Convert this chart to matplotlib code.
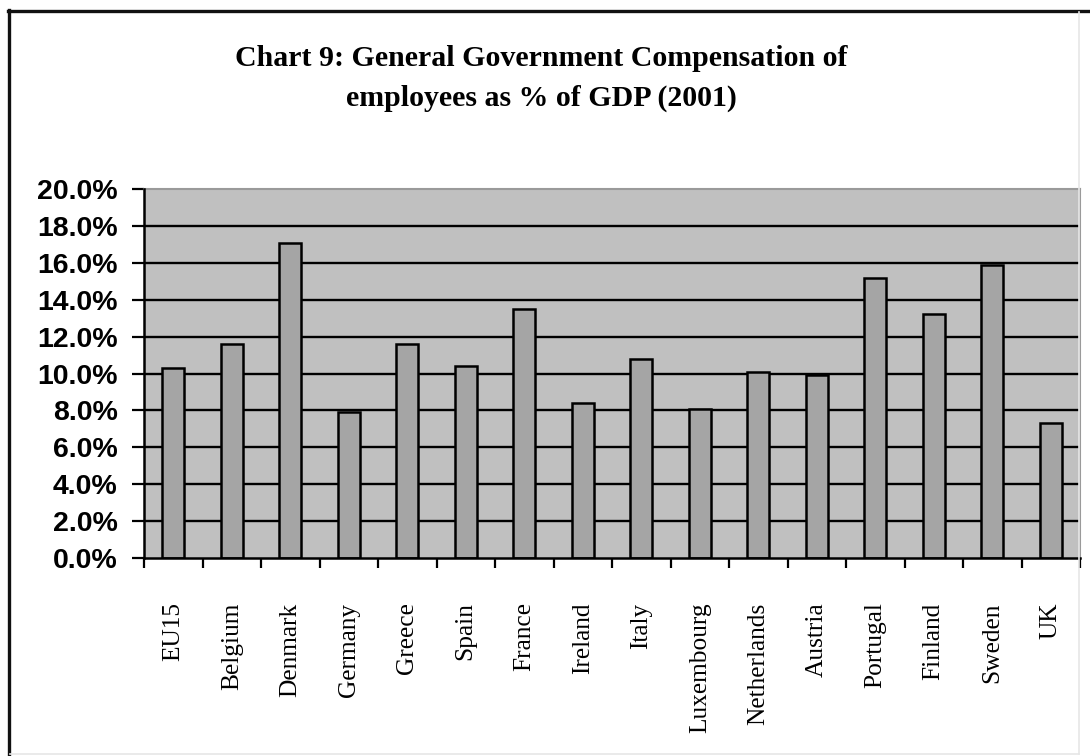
import matplotlib
matplotlib.use("Agg")
import matplotlib.pyplot as plt
from matplotlib.lines import Line2D
from matplotlib.ticker import FixedLocator, PercentFormatter

# Compensation of general government employees, % of GDP, 2001
countries = ["EU15", "Belgium", "Denmark", "Germany", "Greece", "Spain", "France",
             "Ireland", "Italy", "Luxembourg", "Netherlands", "Austria", "Portugal",
             "Finland", "Sweden", "UK"]
share_pct = [10.3, 11.6, 17.1, 7.9, 11.6, 10.4, 13.5, 8.4, 10.8, 8.1, 10.1, 9.9,
             15.2, 13.2, 15.9, 7.3]
y_ticks = [0, 2, 4, 6, 8, 10, 12, 14, 16, 18, 20]
title = "Chart 9: General Government Compensation of\nemployees as % of GDP (2001)"

fig = plt.figure(figsize=(10.9, 7.56), dpi=100)
fig.patch.set_facecolor("white")
ax = fig.add_axes([144 / 1090, 1 - 558 / 756, (1080 - 144) / 1090, (558 - 189) / 756])
ax.set_facecolor("#c0c0c0")

n = len(countries)
centers = [i + 0.5 for i in range(n)]
ax.bar(centers, share_pct, width=0.37, color="#a5a5a5", edgecolor="black",
       linewidth=1.8, zorder=3)

ax.set_xlim(0, n)
ax.set_ylim(0, 20)

# horizontal grid lines (the 20% line is the plot-area border instead)
for v in y_ticks[1:-1]:
    ax.axhline(v, color="black", linewidth=1.7, zorder=1)

ax.yaxis.set_major_locator(FixedLocator(y_ticks))
ax.yaxis.set_major_formatter(PercentFormatter(decimals=1))
ax.tick_params(axis="y", direction="out", length=9, width=1.6, pad=10,
               labelsize=20.5)
for lab in ax.get_yticklabels():
    lab.set_fontfamily("Liberation Sans")
    lab.set_fontweight("bold")

# category boundaries carry the ticks, labels sit at the bar centres
ax.xaxis.set_major_locator(FixedLocator(list(range(n + 1))))
ax.xaxis.set_minor_locator(FixedLocator(centers))
ax.set_xticklabels([], minor=False)
ax.set_xticklabels(countries, minor=True, rotation=90, fontsize=18.3,
                   fontfamily="Liberation Serif", va="top", ha="center")
ax.tick_params(axis="x", which="major", direction="out", length=7, width=1.6)
ax.tick_params(axis="x", which="minor", length=0, pad=32)

for side in ("left", "bottom"):
    ax.spines[side].set_color("black")
    ax.spines[side].set_linewidth(1.8)
for side in ("top", "right"):
    ax.spines[side].set_color("#9a9a9a")
    ax.spines[side].set_linewidth(1.5)
ax.spines["left"].set_zorder(4)
ax.spines["bottom"].set_zorder(4)

fig.text(0.497, 1 - 106 / 756, title, ha="center", va="baseline",
         fontfamily="Liberation Serif", fontweight="bold", fontsize=21.5,
         linespacing=1.6)

# page frame: dark left/top edges, light right/bottom edges
fig.add_artist(Line2D([8.5 / 1090, 8.5 / 1090], [0, 1 - 10 / 756],
                      transform=fig.transFigure, color="#111111", linewidth=2.4))
fig.add_artist(Line2D([7.5 / 1090, 1], [1 - 10.5 / 756, 1 - 10.5 / 756],
                      transform=fig.transFigure, color="#111111", linewidth=2.4))
fig.add_artist(Line2D([1079 / 1090, 1079 / 1090], [2 / 756, 1 - 12 / 756],
                      transform=fig.transFigure, color="#e6e6e6", linewidth=1.2))
fig.add_artist(Line2D([10 / 1090, 1079 / 1090], [2 / 756, 2 / 756],
                      transform=fig.transFigure, color="#e6e6e6", linewidth=1.2))

fig.savefig("out.png", dpi=100)
